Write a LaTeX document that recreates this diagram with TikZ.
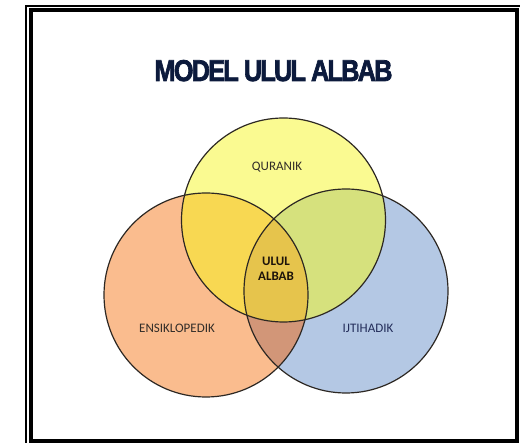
\documentclass[tikz,border=0pt]{standalone}
\usepackage{fontspec}
\setmainfont{Carlito}
\newfontfamily\titlefont[BoldFont={Liberation Sans Bold}, BoldFeatures={FakeBold=2.5, LetterSpace=-7}]{Liberation Sans}
\usepackage{graphicx}
\definecolor{cyel}{RGB}{250,250,145}
\definecolor{cora}{RGB}{250,188,142}
\definecolor{cblu}{RGB}{180,200,228}
\definecolor{cyo}{RGB}{248,216,82}
\definecolor{cyb}{RGB}{214,225,125}
\definecolor{cob}{RGB}{210,150,120}
\definecolor{cyob}{RGB}{230,196,76}
\definecolor{cline}{RGB}{45,40,35}
\definecolor{ctitle}{RGB}{12,26,60}
\definecolor{cnavy}{RGB}{35,45,90}
\definecolor{cgray}{RGB}{50,45,40}
\begin{document}
\begin{tikzpicture}[x=1pt,y=-1pt,
  lbl/.style={font=\fontsize{13}{15}\selectfont, inner sep=0pt, text=cgray},
  ring/.style={draw=cline, line width=1.2pt}]
\useasboundingbox (0,0) rectangle (520,443);
\fill[white] (0,0) rectangle (520,443);
% frame
\draw[line width=1.3pt] (26,450) -- (26,6) -- (530,6);
\draw[line width=4pt] (31,10) rectangle (517,441);
% title
\node[anchor=base, inner sep=0pt, text=ctitle] (title) at (273.5,81)
  {\resizebox{238pt}{21pt}{\titlefont\bfseries MODEL\hspace{2pt}ULUL\hspace{2pt}ALBAB}};
% circle centres
\coordinate (cq) at (283.5,220);
\coordinate (ce) at (206,295);
\coordinate (ci) at (346,291);
\def\R{102}
% fills
\fill[cora] (ce) circle[radius=\R];
\fill[cblu] (ci) circle[radius=\R];
\begin{scope}
  \clip (ce) circle[radius=\R];
  \fill[cob] (ci) circle[radius=\R];
\end{scope}
\fill[cyel] (cq) circle[radius=\R];
\begin{scope}
  \clip (cq) circle[radius=\R];
  \fill[cyo] (ce) circle[radius=\R];
  \fill[cyb] (ci) circle[radius=\R];
  \clip (ce) circle[radius=\R];
  \fill[cyob] (ci) circle[radius=\R];
\end{scope}
% outlines
\draw[ring] (ce) circle[radius=\R];
\draw[ring] (ci) circle[radius=\R];
\draw[ring] (cq) circle[radius=\R];
% labels
\node[lbl] (q) at (277,167) {QURANIK};
\node[lbl] (e) at (177,328) {ENSIKLOPEDIK};
\node[lbl, text=cnavy] (i) at (368,328) {IJTIHADIK};
\node[lbl, font=\fontsize{13}{15}\selectfont\bfseries, align=center, text=black!85!brown] (u) at (276,269) {ULUL\\ALBAB};
\end{tikzpicture}
\end{document}
